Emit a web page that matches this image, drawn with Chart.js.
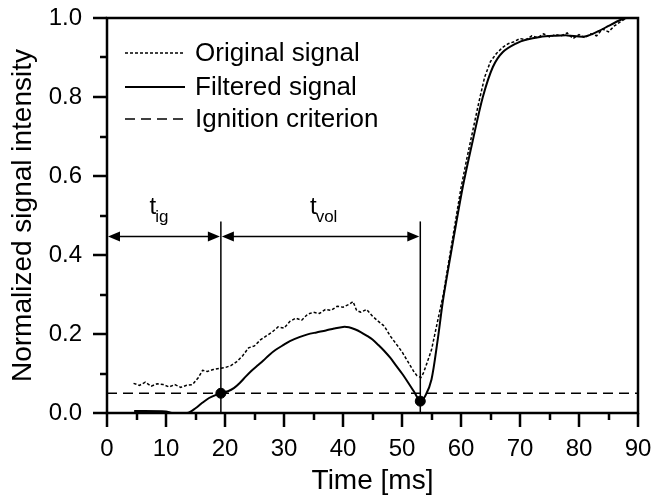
<!DOCTYPE html>
<html>
<head>
<meta charset="utf-8">
<script src="https://cdn.jsdelivr.net/npm/chart.js@4.4.0/dist/chart.umd.min.js"></script>
<style>
  html, body { margin: 0; padding: 0; background: #fff; }
</style>
</head>
<body>
<canvas id="signalChart" width="657" height="499"></canvas>
<script>
// original (unfiltered) signal
const origTime = [4.5, 5.5, 6.5, 7.5, 8.5, 9.5, 10.5, 11.5, 12.5, 13.5, 14.5, 15.5, 16.2, 17, 18, 19, 20,
  21, 22, 23, 24, 25, 26, 27, 28, 29, 30, 31, 32, 33, 34, 35, 36, 37, 38, 39, 40, 41, 41.7, 42.3,
  43, 44, 45, 46, 47, 48, 49, 50, 51, 52, 52.5, 53.2, 53.6, 54.2, 55, 56, 57, 58, 59, 60,
  61, 62, 63, 64, 65, 66, 67, 68, 69, 70, 71, 72, 73, 74, 75, 76, 77, 78, 79, 80,
  81, 82, 83, 84, 85, 86, 87, 88];
const origValue = [0.075, 0.07, 0.078, 0.068, 0.074, 0.072, 0.066, 0.072, 0.065, 0.07, 0.072, 0.09, 0.108, 0.105, 0.11, 0.113, 0.115,
  0.12, 0.13, 0.145, 0.165, 0.17, 0.185, 0.195, 0.205, 0.218, 0.215, 0.232, 0.24, 0.235, 0.25, 0.255, 0.252, 0.262, 0.26, 0.27, 0.268, 0.275, 0.282, 0.26,
  0.255, 0.262, 0.245, 0.232, 0.22, 0.195, 0.175, 0.155, 0.13, 0.105, 0.095, 0.09, 0.1, 0.125, 0.16, 0.23, 0.3, 0.39, 0.48, 0.57,
  0.645, 0.715, 0.785, 0.85, 0.89, 0.91, 0.925, 0.935, 0.94, 0.948, 0.945, 0.955, 0.95, 0.96, 0.952, 0.958, 0.955, 0.962, 0.948, 0.958,
  0.95, 0.96, 0.955, 0.972, 0.965, 0.98, 0.99, 1.0];

// filtered signal
const filtTime = [4.6, 10, 11, 13.6, 15, 16, 17.3, 18.5, 19.4, 20.5, 21.5, 22.5, 23.5, 24.5, 25.5, 26.5, 27.5, 28.6,
  30, 31, 32.6, 34, 35.5, 37.1, 38.5, 40, 41, 42, 43, 44, 45, 46, 47, 48, 49, 50, 51, 52, 53.1,
  54, 55, 56, 57, 58.6, 60.3, 62, 63.7, 65.4, 67.1, 69.4, 71, 73.4, 76, 78, 81, 83.5, 85, 87, 88];
const filtValue = [0.005, 0.004, 0, 0, 0.012, 0.024, 0.038, 0.046, 0.05, 0.055, 0.063, 0.076, 0.092, 0.107, 0.12, 0.133, 0.147, 0.16,
  0.173, 0.182, 0.192, 0.199, 0.204, 0.209, 0.214, 0.218, 0.217, 0.212, 0.205, 0.196, 0.186, 0.172, 0.157, 0.14, 0.12, 0.1, 0.078, 0.055, 0.03,
  0.045, 0.085, 0.18, 0.29, 0.43, 0.572, 0.69, 0.8, 0.876, 0.914, 0.936, 0.945, 0.952, 0.955, 0.956, 0.953, 0.968, 0.98, 0.995, 1.0];

// ignition criterion and the two characteristic times
const criterionTime = [0, 90];
const criterionValue = [0.05, 0.05];
const markTime = [19.3, 53.1];
const markValue = [0.05, 0.03];
const arrowLevel = 0.447;
const markLineTop = 0.485;
const intervalLabels = ['ig', 'vol'];
const intervalLabelTime = [7.2, 34.4];
const intervalLabelValue = 0.505;

const xTicks = [0, 10, 20, 30, 40, 50, 60, 70, 80, 90];
const yTicks = [0, 0.2, 0.4, 0.6, 0.8, 1.0];

const FONT = '"Liberation Sans", Arial, sans-serif';

function toPoints(xs, ys) {
  return xs.map((x, i) => ({ x: x, y: ys[i] }));
}

function arrowHead(ctx, tipX, tipY, dir) {
  ctx.beginPath();
  ctx.moveTo(tipX, tipY);
  ctx.lineTo(tipX - dir * 12, tipY - 5);
  ctx.lineTo(tipX - dir * 12, tipY + 5);
  ctx.closePath();
  ctx.fill();
}

// keep the plot box fixed: no extra room for overhanging tick labels
function noOverhang(scale) {
  scale.paddingLeft = 0;
  scale.paddingRight = 0;
  scale.paddingTop = 0;
  scale.paddingBottom = 0;
}

const extras = {
  id: 'extras',
  afterDatasetsDraw(chart) {
    const { ctx, scales: { x, y } } = chart;
    ctx.save();
    ctx.strokeStyle = '#000';
    ctx.fillStyle = '#000';
    ctx.lineWidth = 1.5;

    // vertical marker lines
    markTime.forEach(t => {
      const px = x.getPixelForValue(t);
      ctx.beginPath();
      ctx.moveTo(px, y.getPixelForValue(0));
      ctx.lineTo(px, y.getPixelForValue(markLineTop));
      ctx.stroke();
    });

    // double arrows
    const ay = y.getPixelForValue(arrowLevel);
    const bounds = [0, markTime[0], markTime[1]];
    for (let i = 0; i < 2; i++) {
      const xa = x.getPixelForValue(bounds[i]) + 1;
      const xb = x.getPixelForValue(bounds[i + 1]) - 1;
      ctx.beginPath();
      ctx.moveTo(xa + 4, ay);
      ctx.lineTo(xb - 4, ay);
      ctx.stroke();
      arrowHead(ctx, xa, ay, -1);
      arrowHead(ctx, xb, ay, 1);
    }

    // t_ig and t_vol labels
    intervalLabels.forEach((sub, i) => {
      const px = x.getPixelForValue(intervalLabelTime[i]);
      const py = y.getPixelForValue(intervalLabelValue);
      ctx.textBaseline = 'alphabetic';
      ctx.textAlign = 'left';
      ctx.font = '24px ' + FONT;
      ctx.fillText('t', px, py);
      const w = ctx.measureText('t').width;
      ctx.font = '17px ' + FONT;
      ctx.fillText(sub, px + w - 1, py + 8);
    });
    ctx.restore();
  },
  afterDraw(chart) {
    const { ctx, chartArea: a, scales: { x, y } } = chart;
    ctx.save();
    ctx.strokeStyle = '#000';
    ctx.lineWidth = 2.5;
    ctx.strokeRect(a.left, a.top, a.right - a.left, a.bottom - a.top);

    // major and minor tick marks
    ctx.beginPath();
    for (let v = 0; v <= 90; v += 5) {
      const px = Math.round(x.getPixelForValue(v));
      const len = v % 10 === 0 ? 14 : 7;
      ctx.moveTo(px, a.bottom);
      ctx.lineTo(px, a.bottom + len);
    }
    for (let k = 0; k <= 10; k++) {
      const py = Math.round(y.getPixelForValue(k / 10));
      const len = k % 2 === 0 ? 14 : 7;
      ctx.moveTo(a.left, py);
      ctx.lineTo(a.left - len, py);
    }
    ctx.stroke();

    // legend inside the plot
    const rows = [53, 87, 119];
    const ds = chart.data.datasets.slice(0, 3);
    ds.forEach((d, i) => {
      ctx.lineWidth = d.borderWidth;
      ctx.setLineDash(d.borderDash || []);
      ctx.beginPath();
      ctx.moveTo(125, rows[i]);
      ctx.lineTo(185, rows[i]);
      ctx.stroke();
      ctx.setLineDash([]);
      ctx.fillStyle = '#000';
      ctx.font = '26px ' + FONT;
      ctx.textAlign = 'left';
      ctx.textBaseline = 'middle';
      ctx.fillText(d.label, 195, rows[i] + 1);
    });
    ctx.restore();
  }
};

const data = {
  datasets: [
    {
      label: 'Original signal',
      data: toPoints(origTime, origValue),
      borderColor: '#000',
      borderWidth: 1.5,
      borderDash: [3, 2],
      pointRadius: 0,
      tension: 0,
    },
    {
      label: 'Filtered signal',
      data: toPoints(filtTime, filtValue),
      borderColor: '#000',
      borderWidth: 2,
      pointRadius: 0,
      tension: 0.3,
    },
    {
      label: 'Ignition criterion',
      data: toPoints(criterionTime, criterionValue),
      borderColor: '#000',
      borderWidth: 1.5,
      borderDash: [10, 6],
      pointRadius: 0,
    },
    {
      label: 'marks',
      type: 'scatter',
      data: toPoints(markTime, markValue),
      backgroundColor: '#000',
      borderColor: '#000',
      pointRadius: 5,
    },
  ]
};

const config = {
  type: 'line',
  data: data,
  options: {
    responsive: false,
    animation: false,
    events: [],
    layout: { padding: { left: 6, right: 19, top: 18, bottom: 1 } },
    plugins: {
      legend: { display: false },
      tooltip: { enabled: false },
    },
    scales: {
      x: {
        type: 'linear',
        min: 0,
        max: 90,
        afterBuildTicks: scale => { scale.ticks = xTicks.map(v => ({ value: v })); },
        afterFit: scale => { scale.height = 85; noOverhang(scale); },
        grid: { display: false, drawTicks: false },
        border: { display: false },
        ticks: { color: '#000', padding: 22, font: { family: FONT, size: 24 } },
        title: { display: true, text: 'Time [ms]', color: '#000', font: { family: FONT, size: 28 }, padding: 0 },
      },
      y: {
        min: 0,
        max: 1,
        afterBuildTicks: scale => { scale.ticks = yTicks.map(v => ({ value: v })); },
        afterFit: scale => { scale.width = 101; noOverhang(scale); },
        grid: { display: false, drawTicks: false },
        border: { display: false },
        ticks: { color: '#000', padding: 25, font: { family: FONT, size: 24 }, callback: v => v.toFixed(1) },
        title: { display: true, text: 'Normalized signal intensity', color: '#000', font: { family: FONT, size: 28 }, padding: 0 },
      },
    },
  },
  plugins: [extras],
};

const signalChart = new Chart(
  document.getElementById('signalChart'),
  config
);
</script>
</body>
</html>
